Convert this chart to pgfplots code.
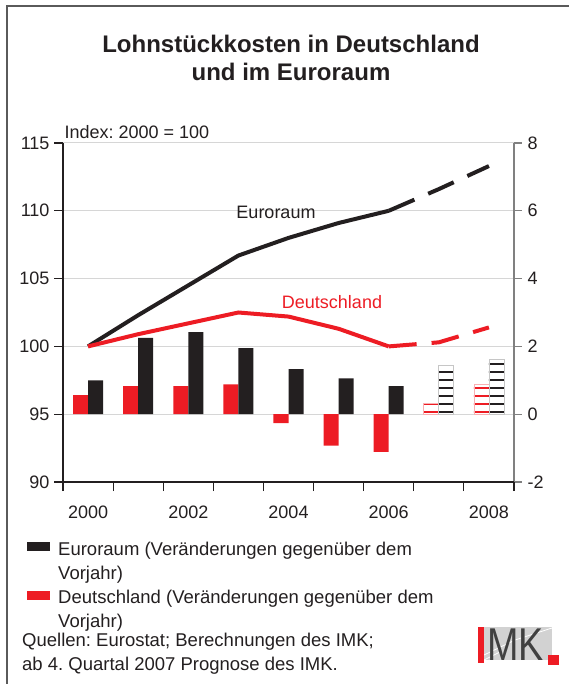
\documentclass[border=0pt]{standalone}
\usepackage{fontspec}
\setmainfont{Liberation Sans}
\usepackage{pgfplots}
\pgfplotsset{compat=1.18}
\usetikzlibrary{patterns.meta}
\frenchspacing

\definecolor{imkred}{HTML}{ED1C24}
\definecolor{imkblack}{HTML}{231F20}
\definecolor{gridgray}{HTML}{D6D6D6}
\definecolor{framegray}{HTML}{5A5A5A}

\pgfplotsset{
  lohnbase/.style={
    at={(63pt,-482pt)}, anchor=south west,
    scale only axis, width=451pt, height=339pt,
    xmin=1999.5, xmax=2008.5,
    tick align=outside,
    every tick label/.append style={font=\fontsize{18}{20}\selectfont, text=imkblack},
    /pgf/number format/assume math mode=true,
  },
}

\begin{document}
\begin{tikzpicture}[x=1pt,y=1pt]
\useasboundingbox (0,0) rectangle (569,-684);

% frame
\draw[line width=2pt, framegray] (7,-684) -- (7,-6) -- (569,-6);

% title
\node[font=\fontsize{24}{28}\selectfont\bfseries, text=imkblack, anchor=base] at (291,-53) {Lohnstückkosten in Deutschland};
\node[font=\fontsize{24}{28}\selectfont\bfseries, text=imkblack, anchor=base] at (291,-81) {und im Euroraum};

% bars: change on previous year, right axis
\begin{axis}[lohnbase,
  ymin=-2, ymax=8, ytick={-2,0,...,8},
  axis x line=none, axis y line*=right,
  major tick length=8pt,
  y axis line style={gray, line width=1.2pt},
  ytick style={gray, line width=1.2pt},
  ymajorgrids, grid style={gridgray, line width=1pt},
  yticklabel style={xshift=2pt},
]
\addplot[ybar, bar width=15pt, bar shift=-7.5pt, fill=imkred, draw=none] coordinates {
  (2000,0.56) (2001,0.83) (2002,0.83) (2003,0.88) (2004,-0.26) (2005,-0.93) (2006,-1.11)
};
\addplot[ybar, bar width=15pt, bar shift=7.5pt, fill=imkblack, draw=none] coordinates {
  (2000,1.00) (2001,2.25) (2002,2.42) (2003,1.95) (2004,1.33) (2005,1.06) (2006,0.83)
};
% forecast
\addplot[ybar, bar width=15pt, bar shift=-7.5pt, draw=imkred!35, line width=0.8pt,
  pattern={Lines[angle=0, distance=8pt, line width=1.6pt]}, pattern color=imkred] coordinates {
  (2007,0.33) (2008,0.88)
};
\addplot[ybar, bar width=15pt, bar shift=7.5pt, draw=gray!45, line width=0.8pt,
  pattern={Lines[angle=0, distance=8pt, line width=1.6pt]}, pattern color=imkblack] coordinates {
  (2007,1.45) (2008,1.61)
};
\end{axis}

% index lines, left axis
\begin{axis}[lohnbase,
  ymin=90, ymax=115, ytick={90,95,...,115},
  axis y line*=left, axis x line*=bottom,
  axis line style={imkblack, line width=1.2pt},
  tick style={imkblack, line width=1.2pt},
  major tick length=9pt,
  xtick={1999.5,2000.5,...,2008.5}, xticklabels={},
  extra x ticks={2000,2002,2004,2006,2008},
  extra x tick labels={2000,2002,2004,2006,2008},
  extra x tick style={major tick length=0pt},
  xticklabel style={yshift=-20pt},
  yticklabel style={xshift=-1pt},
]
\addplot[imkblack, line width=4pt] coordinates {
  (2000,100) (2001,102.3) (2002,104.5) (2003,106.7) (2004,108.0) (2005,109.1) (2006,110.0)
};
\addplot[imkblack, line width=4pt, dash pattern=on 28pt off 15pt] coordinates {
  (2006,110.0) (2007,111.6) (2008,113.3)
};
\addplot[imkred, line width=4pt] coordinates {
  (2000,100) (2001,100.9) (2002,101.7) (2003,102.5) (2004,102.2) (2005,101.3) (2006,100.0)
};
\addplot[imkred, line width=4pt, dash pattern=on 28pt off 15pt] coordinates {
  (2006,100.0) (2007,100.3) (2008,101.4)
};
\end{axis}

% texts in the plot area
\node[font=\fontsize{18}{20}\selectfont, text=imkblack, anchor=base west] at (61,-139) {Index: 2000 = 100};
\node[font=\fontsize{18}{20}\selectfont, text=imkblack, anchor=base] at (276,-219) {Euroraum};
\node[font=\fontsize{18}{20}\selectfont, text=imkred, anchor=base] at (332,-308) {Deutschland};

% legend and notes
\fill[imkblack] (27,-542) rectangle (50,-551);
\fill[imkred] (27,-591) rectangle (50,-600);
\begin{scope}[every node/.style={font=\fontsize{18.5}{22}\selectfont, text=imkblack, anchor=base west, inner sep=0pt}]
\node at (58,-555) {Euroraum (Veränderungen gegenüber dem};
\node at (58,-579) {Vorjahr)};
\node at (58,-603) {Deutschland (Veränderungen gegenüber dem};
\node at (58,-627) {Vorjahr)};
\node at (22,-646) {Quellen: Eurostat; Berechnungen des IMK;};
\node at (22,-670) {ab 4. Quartal 2007 Prognose des IMK.};
\end{scope}

% IMK logo
\fill[gray!35] (478,-627) rectangle (552,-660);
\draw[white, line width=0.8pt] (484,-655) -- (515,-640) -- (552,-628);
\draw[white, line width=0.8pt] (484,-660) -- (500,-652);
\fill[imkred] (478,-627) rectangle (484,-663);
\node[font=\fontsize{46}{46}\selectfont, text=black!75, anchor=base west, inner sep=0pt] at (487,-660) {\scalebox{0.82}[1]{MK}};
\fill[imkred] (548,-655) rectangle (559,-665);
\end{tikzpicture}
\end{document}
